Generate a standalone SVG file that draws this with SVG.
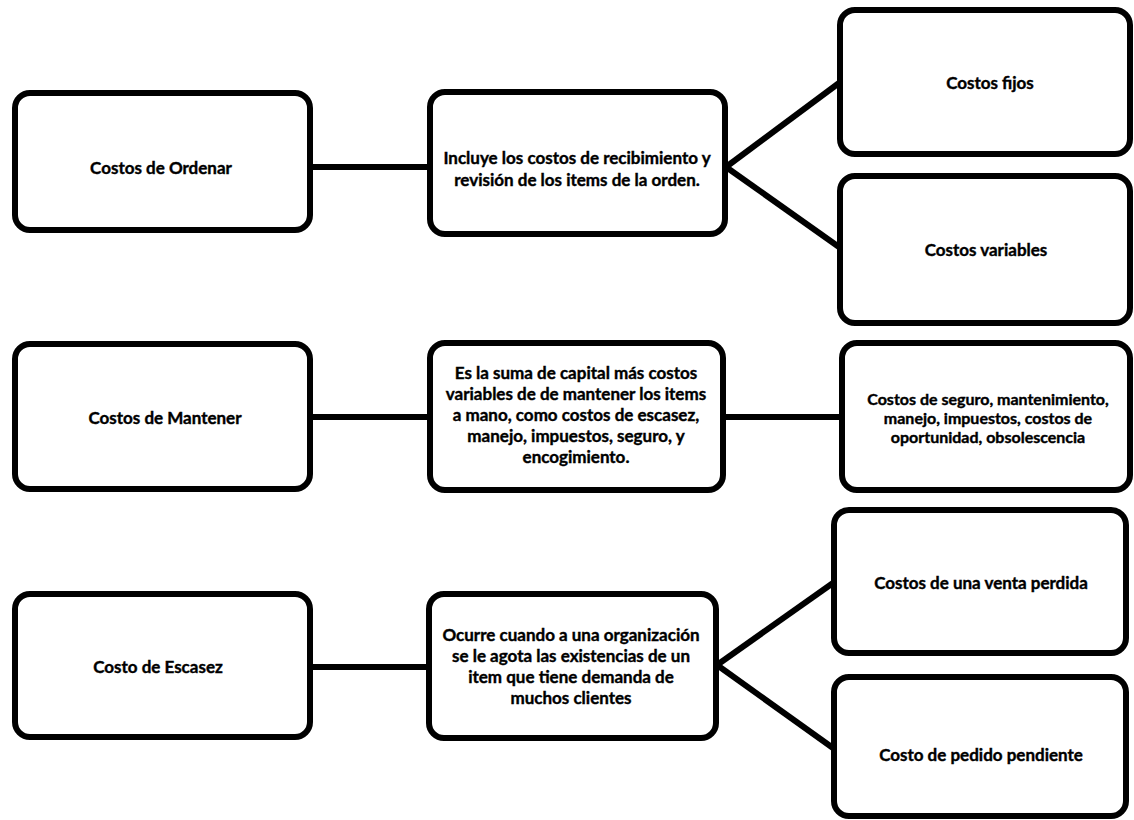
<svg xmlns="http://www.w3.org/2000/svg" width="1134" height="820" viewBox="0 0 1134 820">
  <style>
    .box { fill: #ffffff; stroke: #000000; stroke-width: 6; }
    .link { fill: none; stroke: #000000; stroke-width: 6; }
    text { font-family: Lato, "Open Sans", "Liberation Sans", sans-serif; font-weight: bold; font-size: 17px; fill: #000000; text-anchor: middle; stroke: #000000; stroke-width: 0.4; }
    .tight { font-size: 16px; }
  </style>
  <rect width="1134" height="820" fill="#ffffff"/>

  <g id="connectors">
    <line class="link" x1="312" y1="167" x2="428" y2="167"/>
    <line class="link" x1="726" y1="167" x2="839" y2="83"/>
    <line class="link" x1="726" y1="167" x2="839" y2="247"/>
    <line class="link" x1="312" y1="417" x2="428" y2="417"/>
    <line class="link" x1="724" y1="417" x2="841" y2="417"/>
    <line class="link" x1="312" y1="667" x2="428" y2="667"/>
    <line class="link" x1="717" y1="665" x2="833" y2="583"/>
    <line class="link" x1="717" y1="665" x2="833" y2="748"/>
  </g>

  <g id="ordenar">
    <rect class="box" x="15" y="93" width="295" height="137" rx="15"/>
    <text x="161" y="174">Costos de Ordenar</text>
  </g>
  <g id="ordenar-desc">
    <rect class="box" x="430" y="92" width="295" height="142" rx="15"/>
    <text x="577" y="164">Incluye los costos de recibimiento y</text>
    <text x="577" y="186">revisión de los items de la orden.</text>
  </g>
  <g id="costos-fijos">
    <rect class="box" x="840" y="10" width="290" height="144" rx="15"/>
    <text x="990" y="89">Costos fijos</text>
  </g>
  <g id="costos-variables">
    <rect class="box" x="840" y="176" width="290" height="147" rx="15"/>
    <text x="986" y="256">Costos variables</text>
  </g>

  <g id="mantener">
    <rect class="box" x="15" y="344" width="295" height="145" rx="15"/>
    <text x="165" y="424">Costos de Mantener</text>
  </g>
  <g id="mantener-desc">
    <rect class="box" x="430" y="343" width="293" height="147" rx="15"/>
    <text x="576" y="379">Es la suma de capital más costos</text>
    <text x="576" y="400">variables de de mantener los items</text>
    <text x="576" y="421">a mano, como costos de escasez,</text>
    <text x="576" y="442">manejo, impuestos, seguro, y</text>
    <text x="576" y="463">encogimiento.</text>
  </g>
  <g id="mantener-detalle">
    <rect class="box" x="842" y="343" width="288" height="147" rx="15"/>
    <text class="tight" x="988" y="405">Costos de seguro, mantenimiento,</text>
    <text class="tight" x="988" y="424">manejo, impuestos, costos de</text>
    <text class="tight" x="988" y="443">oportunidad, obsolescencia</text>
  </g>

  <g id="escasez">
    <rect class="box" x="15" y="594" width="295" height="143" rx="15"/>
    <text x="158" y="673">Costo de Escasez</text>
  </g>
  <g id="escasez-desc">
    <rect class="box" x="429" y="594" width="287" height="144" rx="15"/>
    <text x="571" y="641">Ocurre cuando  a una organización</text>
    <text x="571" y="662">se le agota las existencias de un</text>
    <text x="571" y="683">item que tiene demanda de</text>
    <text x="571" y="704">muchos clientes</text>
  </g>
  <g id="venta-perdida">
    <rect class="box" x="834" y="510" width="292" height="143" rx="15"/>
    <text x="981" y="589">Costos de una venta perdida</text>
  </g>
  <g id="pedido-pendiente">
    <rect class="box" x="834" y="677" width="292" height="139" rx="15"/>
    <text x="981" y="761">Costo de pedido pendiente</text>
  </g>
</svg>
